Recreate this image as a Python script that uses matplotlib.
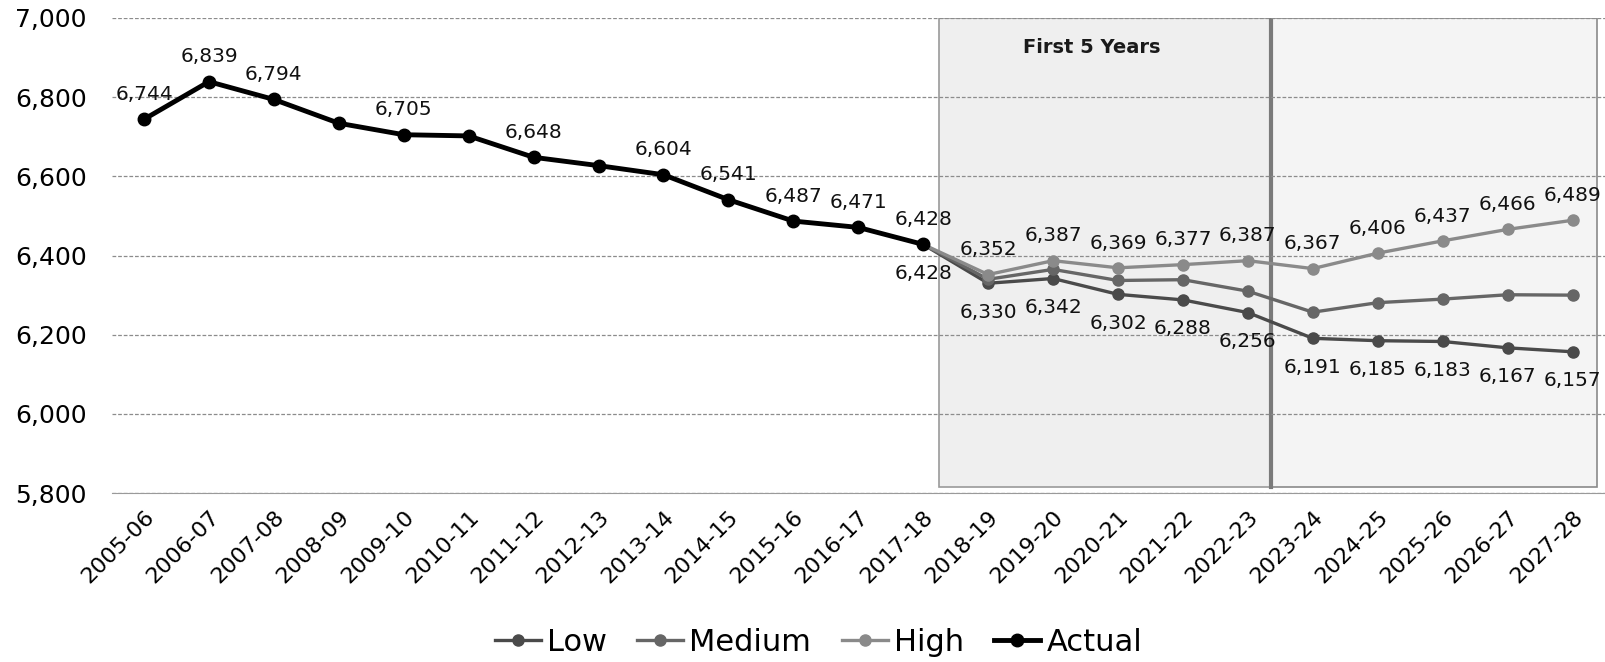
import matplotlib.pyplot as plt
import matplotlib.patches as mpatches
import numpy as np

# School-year categories
years = ['2005-06', '2006-07', '2007-08', '2008-09', '2009-10', '2010-11', '2011-12',
         '2012-13', '2013-14', '2014-15', '2015-16', '2016-17', '2017-18', '2018-19',
         '2019-20', '2020-21', '2021-22', '2022-23', '2023-24', '2024-25', '2025-26',
         '2026-27', '2027-28']

# Actual values 2005-06 .. 2017-18
actual = [6744, 6839, 6794, 6734, 6705, 6702, 6648, 6627, 6604, 6541, 6487, 6471, 6428]
actual_unlabeled = ['2008-09', '2010-11', '2012-13']

# Projections 2017-18 .. 2027-28
low = [6428, 6330, 6342, 6302, 6288, 6256, 6191, 6185, 6183, 6167, 6157]
medium = [6428, 6340, 6365, 6337, 6339, 6310, 6257, 6281, 6290, 6301, 6300]
high = [6428, 6352, 6387, 6369, 6377, 6387, 6367, 6406, 6437, 6466, 6489]

yticks = [5800, 6000, 6200, 6400, 6600, 6800, 7000]

plt.rcParams['font.family'] = ['DejaVu Sans']

x_all = np.arange(len(years))
x_act = x_all[:len(actual)]
x_proj = x_all[len(actual) - 1:]

fig = plt.figure(figsize=(16.05, 6.62), dpi=100)
ax = fig.add_axes([0.0695, 0.255, 0.9305, 0.718])

ax.set_xlim(-0.5, len(years) - 0.5)
ax.set_ylim(5800, 7000)

# shaded boxes ("First 5 Years" and the later period)
ax.add_patch(mpatches.Rectangle((12.25, 5815), 5.1, 1185, facecolor='#efefef',
                                edgecolor='#9a9a9a', lw=1.2, zorder=0))
ax.add_patch(mpatches.Rectangle((17.35, 5815), 5.02, 1185, facecolor='#f4f4f4',
                                edgecolor='#8a8a8a', lw=1.2, zorder=0))
ax.plot([17.35, 17.35], [5815, 7000], color='#7a7a7a', lw=3, zorder=1)
ax.text(14.6, 6925, 'First 5 Years', fontsize=14, fontweight='bold',
        ha='center', va='center', color='#1a1a1a', zorder=5)

for yv in yticks:
    ax.axhline(yv, color='#8c8c8c', lw=0.9, ls=(0, (3, 1.5)), zorder=1)

ax.plot(x_proj, low, color='#4a4a4a', lw=2.4, marker='o', ms=8, zorder=3, label='Low')
ax.plot(x_proj, medium, color='#666666', lw=2.4, marker='o', ms=8, zorder=3, label='Medium')
ax.plot(x_proj, high, color='#8a8a8a', lw=2.4, marker='o', ms=8, zorder=3, label='High')
ax.plot(x_act, actual, color='black', lw=3.5, marker='o', ms=9, zorder=4, label='Actual')

lab_kw = dict(fontsize=14.5, ha='center', color='#111111', zorder=6,
              textcoords='offset points')
for xi, v in zip(x_act, actual):
    if years[xi] in actual_unlabeled:
        continue
    ax.annotate(f'{v:,}', (xi, v), xytext=(0, 11), va='bottom', **lab_kw)
for i, (xi, v) in enumerate(zip(x_proj, high)):
    if i == 0:
        continue
    ax.annotate(f'{v:,}', (xi, v), xytext=(0, 11), va='bottom', **lab_kw)
for xi, v in zip(x_proj, low):
    ax.annotate(f'{v:,}', (xi, v), xytext=(0, -14), va='top', **lab_kw)

ax.set_yticks(yticks)
ax.set_yticklabels([f'{v:,}' for v in yticks], fontsize=18)
ax.set_xticks(x_all)
ax.set_xticklabels(years, rotation=45, ha='right', rotation_mode='anchor', fontsize=16)
ax.tick_params(axis='y', length=0, pad=18)
ax.tick_params(axis='x', length=0, pad=10)
for s in ['top', 'right', 'left']:
    ax.spines[s].set_visible(False)
ax.spines['bottom'].set_color('#9a9a9a')

fig.legend(loc='center', bbox_to_anchor=(0.51, 0.03), ncol=4, frameon=False,
           fontsize=22, handlelength=1.5, handletextpad=0.2, columnspacing=1.0)

fig.savefig('out.png', dpi=100)
